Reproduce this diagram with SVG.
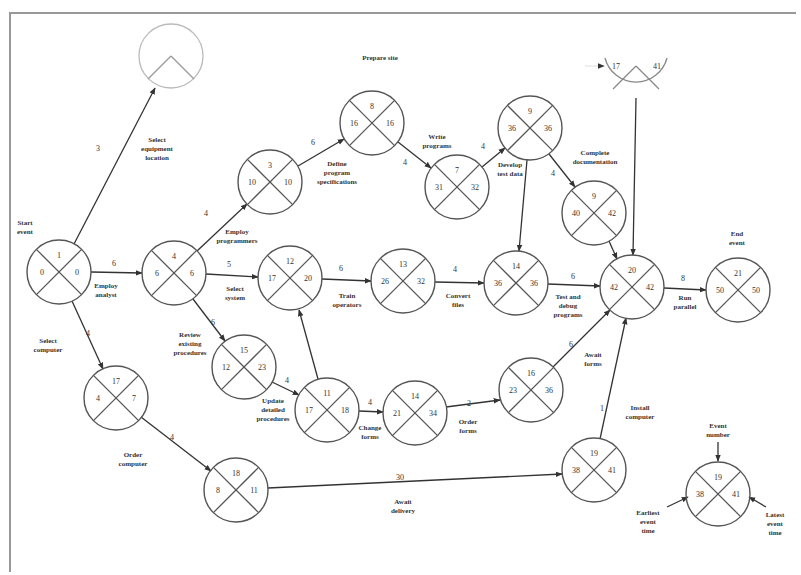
<svg xmlns="http://www.w3.org/2000/svg" width="801" height="575" viewBox="0 0 801 575">
<defs>
<marker id="ah" viewBox="0 0 10 10" refX="9" refY="5" markerWidth="7" markerHeight="7" orient="auto" markerUnits="userSpaceOnUse">
<path d="M0,1 L10,5 L0,9 z" fill="#333"/>
</marker>
<style>
.c{fill:none;stroke:#555;stroke-width:1.4}
.x{stroke:#555;stroke-width:1.3}
.n{font-family:"Liberation Serif",serif;font-size:8px;fill:#333;text-anchor:middle}
.l{font-family:"Liberation Serif",serif;font-size:7px;font-weight:bold;fill:#333;text-anchor:middle}
.e{stroke:#333;stroke-width:1.3;fill:none;marker-end:url(#ah)}
.f{fill:none;stroke:#bbb;stroke-width:1.3}
</style>
</defs>
<rect x="0" y="0" width="801" height="575" fill="#fff"/>
<path d="M10,572 L10,13 L796,13" fill="none" stroke="#999" stroke-width="2"/>

<g id="connectors">
<line class="e" x1="74" y1="244" x2="155" y2="88"/>
<line class="e" x1="91" y1="272" x2="142" y2="273"/>
<line class="e" x1="72" y1="301" x2="103" y2="369"/>
<line class="e" x1="197" y1="251" x2="247" y2="204"/>
<line class="e" x1="206" y1="274" x2="258" y2="277"/>
<line class="e" x1="193" y1="299" x2="225" y2="341"/>
<line class="e" x1="298" y1="166" x2="344" y2="139"/>
<line class="e" x1="398" y1="142" x2="431" y2="168"/>
<line class="e" x1="482" y1="167" x2="505" y2="148"/>
<line class="e" x1="549" y1="154" x2="575" y2="187"/>
<line class="e" x1="527" y1="160" x2="519" y2="251"/>
<line class="e" x1="636" y1="98" x2="633" y2="255"/>
<line class="e" x1="609" y1="241" x2="617" y2="259"/>
<line class="e" x1="322" y1="279" x2="371" y2="281"/>
<line class="e" x1="435" y1="282" x2="484" y2="283"/>
<line class="e" x1="548" y1="284" x2="600" y2="286"/>
<line class="e" x1="664" y1="288" x2="706" y2="290"/>
<line class="e" x1="272" y1="382" x2="299" y2="395"/>
<line class="e" x1="318" y1="379" x2="299" y2="310"/>
<line class="e" x1="359" y1="411" x2="383" y2="412"/>
<line class="e" x1="446" y1="407" x2="500" y2="400"/>
<line class="e" x1="553" y1="367" x2="610" y2="310"/>
<line class="e" x1="141" y1="417" x2="211" y2="471"/>
<line class="e" x1="268" y1="488" x2="562" y2="474"/>
<line class="e" x1="600" y1="439" x2="626" y2="318"/>
<line x1="585" y1="66" x2="604" y2="66" stroke="#ddd" stroke-width="1" marker-end="url(#ah)"/>
<line class="e" x1="718" y1="442" x2="718" y2="461"/>
<line class="e" x1="667" y1="507" x2="688" y2="497"/>
<line class="e" x1="766" y1="507" x2="749" y2="497"/>
</g>

<g id="edge-labels">
<text class="n" x="98" y="151">3</text>
<text class="l" x="157" y="142">Select</text><text class="l" x="157" y="151">equipment</text><text class="l" x="157" y="160">location</text>
<text class="n" x="114" y="266">6</text>
<text class="l" x="106" y="288">Employ</text><text class="l" x="106" y="297">analyst</text>
<text class="n" x="88" y="336">4</text>
<text class="l" x="48" y="343">Select</text><text class="l" x="48" y="352">computer</text>
<text class="n" x="206" y="216">4</text>
<text class="l" x="237" y="234">Employ</text><text class="l" x="237" y="243">programmers</text>
<text class="n" x="229" y="267">5</text>
<text class="l" x="235" y="291">Select</text><text class="l" x="235" y="300">system</text>
<text class="n" x="213" y="325">6</text>
<text class="l" x="190" y="337">Review</text><text class="l" x="190" y="346">existing</text><text class="l" x="190" y="355">procedures</text>
<text class="n" x="313" y="145">6</text>
<text class="l" x="337" y="166">Define</text><text class="l" x="337" y="175">program</text><text class="l" x="337" y="184">specifications</text>
<text class="l" x="380" y="60">Prepare site</text>
<text class="n" x="405" y="165">4</text>
<text class="l" x="437" y="139">Write</text><text class="l" x="437" y="148">programs</text>
<text class="n" x="483" y="149">4</text>
<text class="l" x="510" y="167">Develop</text><text class="l" x="510" y="176">test data</text>
<text class="n" x="553" y="176">4</text>
<text class="l" x="595" y="155">Complete</text><text class="l" x="595" y="164">documentation</text>
<text class="n" x="341" y="271">6</text>
<text class="l" x="347" y="298">Train</text><text class="l" x="347" y="307">operators</text>
<text class="n" x="455" y="272">4</text>
<text class="l" x="458" y="298">Convert</text><text class="l" x="458" y="307">files</text>
<text class="n" x="573" y="279">6</text>
<text class="l" x="568" y="299">Test and</text><text class="l" x="568" y="308">debug</text><text class="l" x="568" y="317">programs</text>
<text class="n" x="683" y="281">8</text>
<text class="l" x="685" y="300">Run</text><text class="l" x="685" y="309">parallel</text>
<text class="n" x="287" y="383">4</text>
<text class="l" x="273" y="403">Update</text><text class="l" x="273" y="412">detailed</text><text class="l" x="273" y="421">procedures</text>
<text class="n" x="370" y="405">4</text>
<text class="l" x="370" y="430">Change</text><text class="l" x="370" y="439">forms</text>
<text class="n" x="469" y="406">2</text>
<text class="l" x="468" y="424">Order</text><text class="l" x="468" y="433">forms</text>
<text class="n" x="571" y="347">6</text>
<text class="l" x="593" y="357">Await</text><text class="l" x="593" y="366">forms</text>
<text class="n" x="172" y="440">4</text>
<text class="l" x="133" y="457">Order</text><text class="l" x="133" y="466">computer</text>
<text class="n" x="400" y="480">30</text>
<text class="l" x="403" y="504">Await</text><text class="l" x="403" y="513">delivery</text>
<text class="n" x="602" y="411">1</text>
<text class="l" x="640" y="410">Install</text><text class="l" x="640" y="419">computer</text>
<text class="l" x="25" y="225">Start</text><text class="l" x="25" y="234">event</text>
<text class="l" x="737" y="236">End</text><text class="l" x="737" y="245">event</text>
<text class="l" x="718" y="428">Event</text><text class="l" x="718" y="437">number</text>
<text class="l" x="648" y="515">Earliest</text><text class="l" x="648" y="524">event</text><text class="l" x="648" y="533">time</text>
<text class="l" x="775" y="517">Latest</text><text class="l" x="775" y="526">event</text><text class="l" x="775" y="535">time</text>
</g>

<g id="node-faded-a">
<circle class="f" cx="171" cy="56" r="32"/>
<line x1="171" y1="56" x2="148" y2="79" stroke="#999" stroke-width="1.2"/>
<line x1="171" y1="56" x2="194" y2="79" stroke="#999" stroke-width="1.2"/>
</g>
<g id="node-faded-b">
<path d="M605,58 A32,32 0 0 0 667,58" fill="none" stroke="#888" stroke-width="1.3"/>
<line x1="636" y1="66" x2="613" y2="89" stroke="#888" stroke-width="1.2"/>
<line x1="636" y1="66" x2="659" y2="89" stroke="#888" stroke-width="1.2"/>
<text class="n" x="616" y="69" fill="#888">17</text>
<text class="n" x="657" y="69" fill="#888">41</text>
</g>

<g id="n1"><circle class="c" cx="59" cy="272" r="32"/><line class="x" x1="36.4" y1="249.4" x2="81.6" y2="294.6"/><line class="x" x1="81.6" y1="249.4" x2="36.4" y2="294.6"/><text class="n" x="59" y="258">1</text><text class="n" x="42" y="275">0</text><text class="n" x="77" y="275">0</text></g>
<g id="n4"><circle class="c" cx="174" cy="273" r="32"/><line class="x" x1="151.4" y1="250.4" x2="196.6" y2="295.6"/><line class="x" x1="196.6" y1="250.4" x2="151.4" y2="295.6"/><text class="n" x="174" y="259">4</text><text class="n" x="157" y="276">6</text><text class="n" x="192" y="276">6</text></g>
<g id="n3"><circle class="c" cx="270" cy="182" r="32"/><line class="x" x1="247.4" y1="159.4" x2="292.6" y2="204.6"/><line class="x" x1="292.6" y1="159.4" x2="247.4" y2="204.6"/><text class="n" x="270" y="168">3</text><text class="n" x="252" y="185">10</text><text class="n" x="288" y="185">10</text></g>
<g id="n8"><circle class="c" cx="372" cy="123" r="32"/><line class="x" x1="349.4" y1="100.4" x2="394.6" y2="145.6"/><line class="x" x1="394.6" y1="100.4" x2="349.4" y2="145.6"/><text class="n" x="372" y="109">8</text><text class="n" x="354" y="126">16</text><text class="n" x="390" y="126">16</text></g>
<g id="n7"><circle class="c" cx="457" cy="187" r="32"/><line class="x" x1="434.4" y1="164.4" x2="479.6" y2="209.6"/><line class="x" x1="479.6" y1="164.4" x2="434.4" y2="209.6"/><text class="n" x="457" y="173">7</text><text class="n" x="439" y="190">31</text><text class="n" x="475" y="190">32</text></g>
<g id="n9a"><circle class="c" cx="530" cy="128" r="32"/><line class="x" x1="507.4" y1="105.4" x2="552.6" y2="150.6"/><line class="x" x1="552.6" y1="105.4" x2="507.4" y2="150.6"/><text class="n" x="530" y="114">9</text><text class="n" x="512" y="131">36</text><text class="n" x="548" y="131">36</text></g>
<g id="n9b"><circle class="c" cx="594" cy="213" r="32"/><line class="x" x1="571.4" y1="190.4" x2="616.6" y2="235.6"/><line class="x" x1="616.6" y1="190.4" x2="571.4" y2="235.6"/><text class="n" x="594" y="199">9</text><text class="n" x="576" y="216">40</text><text class="n" x="612" y="216">42</text></g>
<g id="n12"><circle class="c" cx="290" cy="278" r="32"/><line class="x" x1="267.4" y1="255.4" x2="312.6" y2="300.6"/><line class="x" x1="312.6" y1="255.4" x2="267.4" y2="300.6"/><text class="n" x="290" y="264">12</text><text class="n" x="272" y="281">17</text><text class="n" x="308" y="281">20</text></g>
<g id="n13"><circle class="c" cx="403" cy="281" r="32"/><line class="x" x1="380.4" y1="258.4" x2="425.6" y2="303.6"/><line class="x" x1="425.6" y1="258.4" x2="380.4" y2="303.6"/><text class="n" x="403" y="267">13</text><text class="n" x="385" y="284">26</text><text class="n" x="421" y="284">32</text></g>
<g id="n14"><circle class="c" cx="516" cy="283" r="32"/><line class="x" x1="493.4" y1="260.4" x2="538.6" y2="305.6"/><line class="x" x1="538.6" y1="260.4" x2="493.4" y2="305.6"/><text class="n" x="516" y="269">14</text><text class="n" x="498" y="286">36</text><text class="n" x="534" y="286">36</text></g>
<g id="n20"><circle class="c" cx="632" cy="287" r="32"/><line class="x" x1="609.4" y1="264.4" x2="654.6" y2="309.6"/><line class="x" x1="654.6" y1="264.4" x2="609.4" y2="309.6"/><text class="n" x="632" y="273">20</text><text class="n" x="614" y="290">42</text><text class="n" x="650" y="290">42</text></g>
<g id="n21"><circle class="c" cx="738" cy="290" r="32"/><line class="x" x1="715.4" y1="267.4" x2="760.6" y2="312.6"/><line class="x" x1="760.6" y1="267.4" x2="715.4" y2="312.6"/><text class="n" x="738" y="276">21</text><text class="n" x="720" y="293">50</text><text class="n" x="756" y="293">50</text></g>
<g id="n15"><circle class="c" cx="244" cy="367" r="32"/><line class="x" x1="221.4" y1="344.4" x2="266.6" y2="389.6"/><line class="x" x1="266.6" y1="344.4" x2="221.4" y2="389.6"/><text class="n" x="244" y="353">15</text><text class="n" x="226" y="370">12</text><text class="n" x="262" y="370">23</text></g>
<g id="n17"><circle class="c" cx="116" cy="398" r="32"/><line class="x" x1="93.4" y1="375.4" x2="138.6" y2="420.6"/><line class="x" x1="138.6" y1="375.4" x2="93.4" y2="420.6"/><text class="n" x="116" y="384">17</text><text class="n" x="98" y="401">4</text><text class="n" x="134" y="401">7</text></g>
<g id="n18"><circle class="c" cx="236" cy="490" r="32"/><line class="x" x1="213.4" y1="467.4" x2="258.6" y2="512.6"/><line class="x" x1="258.6" y1="467.4" x2="213.4" y2="512.6"/><text class="n" x="236" y="476">18</text><text class="n" x="218" y="493">8</text><text class="n" x="254" y="493">11</text></g>
<g id="n11"><circle class="c" cx="327" cy="410" r="32"/><line class="x" x1="304.4" y1="387.4" x2="349.6" y2="432.6"/><line class="x" x1="349.6" y1="387.4" x2="304.4" y2="432.6"/><text class="n" x="327" y="396">11</text><text class="n" x="309" y="413">17</text><text class="n" x="345" y="413">18</text></g>
<g id="n14b"><circle class="c" cx="415" cy="413" r="32"/><line class="x" x1="392.4" y1="390.4" x2="437.6" y2="435.6"/><line class="x" x1="437.6" y1="390.4" x2="392.4" y2="435.6"/><text class="n" x="415" y="399">14</text><text class="n" x="397" y="416">21</text><text class="n" x="433" y="416">34</text></g>
<g id="n16"><circle class="c" cx="531" cy="390" r="32"/><line class="x" x1="508.4" y1="367.4" x2="553.6" y2="412.6"/><line class="x" x1="553.6" y1="367.4" x2="508.4" y2="412.6"/><text class="n" x="531" y="376">16</text><text class="n" x="513" y="393">23</text><text class="n" x="549" y="393">36</text></g>
<g id="n19"><circle class="c" cx="594" cy="470" r="32"/><line class="x" x1="571.4" y1="447.4" x2="616.6" y2="492.6"/><line class="x" x1="616.6" y1="447.4" x2="571.4" y2="492.6"/><text class="n" x="594" y="456">19</text><text class="n" x="576" y="473">38</text><text class="n" x="612" y="473">41</text></g>
<g id="legend"><circle class="c" cx="718" cy="494" r="32"/><line class="x" x1="695.4" y1="471.4" x2="740.6" y2="516.6"/><line class="x" x1="740.6" y1="471.4" x2="695.4" y2="516.6"/><text class="n" x="718" y="480">19</text><text class="n" x="700" y="497">38</text><text class="n" x="736" y="497">41</text></g>
</svg>
